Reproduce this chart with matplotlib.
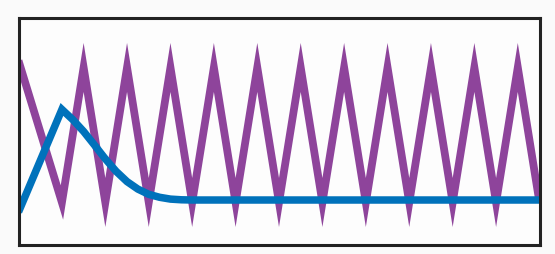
import matplotlib
matplotlib.use("Agg")
import matplotlib.pyplot as plt

# purple zigzag: start, then alternating trough/peak
zig_x = [0, 2, 3, 4, 5, 6, 7, 8, 9, 10, 11, 12, 13, 14, 15, 16, 17, 18, 19, 20, 21, 22, 23, 24]
zig_y = [8.1, 1.85, 7.8, 1.85, 7.8, 1.85, 7.8, 1.85, 7.8, 1.85, 7.8, 1.85, 7.8,
         1.85, 7.8, 1.85, 7.8, 1.85, 7.8, 1.85, 7.8, 1.85, 7.8, 1.85]

# blue curve: rise to a peak then decay to a plateau
curve_x = [0, 2, 2.5, 3, 3.5, 4, 4.5, 5, 5.5, 6, 6.5, 7, 7.5, 8, 10, 12, 14, 16, 18, 20, 22, 24]
curve_y = [1.43, 5.95, 5.5, 4.98, 4.38, 3.77, 3.22, 2.77, 2.44, 2.21, 2.08, 2.0, 1.97, 1.96,
           1.96, 1.96, 1.96, 1.96, 1.96, 1.96, 1.96, 1.96]

fig = plt.figure(figsize=(5.55, 2.55), dpi=100, facecolor="#fafafa")
ax = fig.add_axes([18.5 / 555, 9.5 / 255, 521 / 555, 227 / 255])
ax.set_facecolor("#fdfdfd")

ax.plot(zig_x, zig_y, color="#8e449b", lw=5.6, solid_joinstyle="miter", solid_capstyle="butt")
ax.plot(curve_x, curve_y, color="#0072bb", lw=5.4, solid_joinstyle="miter", solid_capstyle="butt")

ax.set_xlim(0, 24)
ax.set_ylim(0, 10)
ax.set_xticks([])
ax.set_yticks([])
for s in ax.spines.values():
    s.set_linewidth(2.2)
    s.set_color("#222222")
    s.set_zorder(5)

fig.savefig("out.png", dpi=100, facecolor=fig.get_facecolor())
